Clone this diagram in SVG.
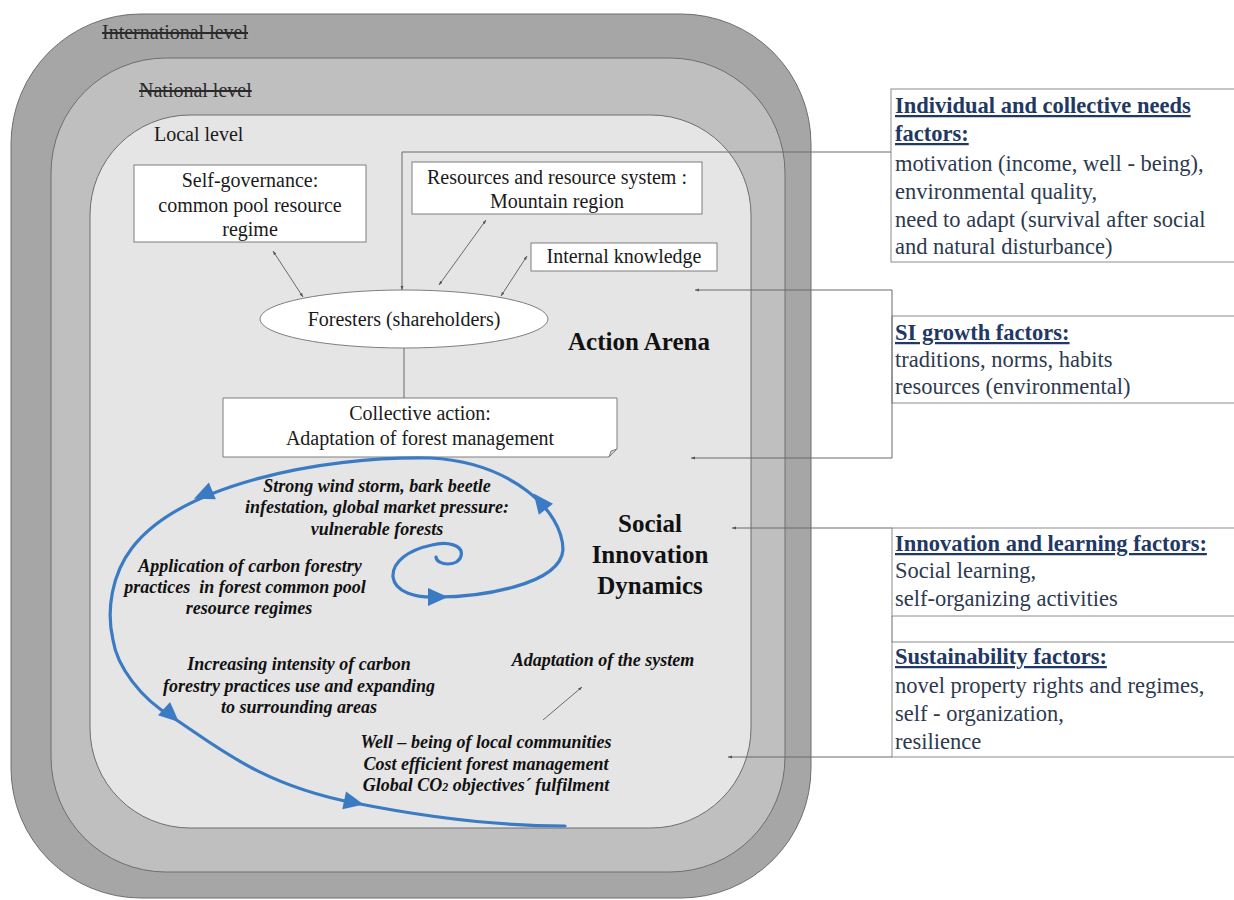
<svg xmlns="http://www.w3.org/2000/svg" width="1234" height="900" viewBox="0 0 1234 900">
<defs>
<style>
.lvl{stroke:#6e6e6e;stroke-width:1}
.t{font-family:"Liberation Serif","Times New Roman",serif;font-size:20px;fill:#1a1a1a}
.strike{text-decoration:line-through;fill:#2a2a2a}
.c{text-anchor:middle}
.bi{font-family:"Liberation Serif","Times New Roman",serif;font-size:18px;font-weight:bold;font-style:italic;fill:#111;text-anchor:middle}
.big{font-family:"Liberation Serif","Times New Roman",serif;font-size:25px;font-weight:bold;fill:#111}
.box{fill:#fff;stroke:#7f7f7f;stroke-width:1}
.conn{fill:none;stroke:#6a6a6a;stroke-width:1}
.panel{fill:#fff;stroke:#8c8c8c;stroke-width:1}
.ph{font-family:"Liberation Serif","Times New Roman",serif;font-size:22.5px;font-weight:bold;fill:#1f3864;text-decoration:underline}
.pb{font-family:"Liberation Serif","Times New Roman",serif;font-size:22.5px;fill:#2d3a4f}
.spiral{fill:none;stroke:#3b7bc4;stroke-width:3.2;stroke-linecap:round}
</style>
<marker id="tip" viewBox="0 0 8 8" refX="8" refY="4" markerWidth="4" markerHeight="4" orient="auto-start-reverse"><path d="M0,1 L8,4 L0,7 z" fill="#555"/></marker>
<path id="ah" d="M12,0 L-8,-9 L-8,9 Z" fill="#3b7bc4"/>
</defs>
<rect width="1234" height="900" fill="#fff"/>

<g id="international-level">
<rect class="lvl" x="11" y="14" width="800" height="884" rx="130" ry="130" fill="#a6a6a6"/>
<text class="t strike" x="102" y="39">International level</text>
</g>
<g id="national-level">
<rect class="lvl" x="51" y="58" width="734" height="814" rx="115" ry="115" fill="#bfbfbf"/>
<text class="t strike" x="139" y="97">National level</text>
</g>
<g id="local-level">
<rect class="lvl" x="90" y="115" width="661" height="713" rx="100" ry="100" fill="#e5e5e5"/>
<text class="t" x="154" y="141">Local level</text>
</g>

<g id="self-governance">
<rect class="box" x="134" y="165" width="232" height="77"/>
<text class="t c" x="250" y="187">Self-governance:</text>
<text class="t c" x="250" y="212">common pool resource</text>
<text class="t c" x="250" y="236">regime</text>
</g>
<g id="resources">
<rect class="box" x="412" y="162" width="290" height="52"/>
<text class="t c" x="557" y="184">Resources and resource system :</text>
<text class="t c" x="557" y="208">Mountain region</text>
</g>
<g id="internal-knowledge">
<rect class="box" x="531" y="243" width="186" height="28"/>
<text class="t c" x="624" y="263">Internal knowledge</text>
</g>
<g id="foresters">
<ellipse class="box" cx="404" cy="319" rx="144" ry="29"/>
<text class="t c" x="404" y="326">Foresters (shareholders)</text>
</g>
<g id="collective-action">
<path class="box" d="M223,398 H617 V449 L609,457 H223 Z"/>
<path d="M609,457 L611,451 L617,449 Z" fill="#d0d0d0" stroke="#7f7f7f" stroke-width="1"/>
<text class="t c" x="420" y="420">Collective action:</text>
<text class="t c" x="420" y="445">Adaptation of forest management</text>
</g>
<g id="action-arena">
<text class="big" x="568" y="350">Action Arena</text>
</g>
<g id="si-dynamics">
<text class="big c" x="650" y="532">Social</text>
<text class="big c" x="650" y="563">Innovation</text>
<text class="big c" x="650" y="594">Dynamics</text>
</g>

<g id="spiral">
<path class="spiral" d="M436,557 C437,566 458,567 461,556 C464,545 447,541 432,545 C408,550 392,562 393,577 C395,592 415,598 437,597 C480,597 560,585 563,550 C563,510 510,462 430,458 C320,456 180,485 132,548 C112,574 106,610 113,640 C117,666 140,698 172,717 C215,745 260,785 355,803 C420,816 490,826 565,826"/>
<use href="#ah" transform="translate(436,597) rotate(0)"/>
<use href="#ah" transform="translate(541,503) rotate(-128)"/>
<use href="#ah" transform="translate(205,494) rotate(157)"/>
<use href="#ah" transform="translate(170,714) rotate(42)"/>
<use href="#ah" transform="translate(352,802) rotate(12)"/>
</g>

<g id="dynamics-labels">
<text class="bi" x="377" y="492">Strong wind storm, bark beetle</text>
<text class="bi" x="377" y="513">infestation, global market pressure:</text>
<text class="bi" x="377" y="535">vulnerable forests</text>
<text class="bi" x="250" y="572">Application of carbon forestry</text>
<text class="bi" x="245" y="593" xml:space="preserve">practices  in forest common pool</text>
<text class="bi" x="249" y="614">resource regimes</text>
<text class="bi" x="299" y="670">Increasing intensity of carbon</text>
<text class="bi" x="299" y="692">forestry practices use and expanding</text>
<text class="bi" x="299" y="713">to surrounding areas</text>
<text class="bi" x="603" y="666">Adaptation of the system</text>
<text class="bi" x="486" y="748">Well – being of local communities</text>
<text class="bi" x="486" y="770">Cost efficient forest management</text>
<text class="bi" x="486" y="791">Global CO<tspan font-size="12">2</tspan> objectives´ fulfilment</text>
</g>

<g id="panel-needs">
<rect class="panel" x="891" y="89" width="360" height="173"/>
<text class="ph" x="895" y="113">Individual and collective needs</text>
<text class="ph" x="895" y="141">factors:</text>
<text class="pb" x="895" y="171">motivation (income, well - being),</text>
<text class="pb" x="895" y="199">environmental quality,</text>
<text class="pb" x="895" y="227">need to adapt (survival after social</text>
<text class="pb" x="895" y="254">and natural disturbance)</text>
</g>
<g id="panel-growth">
<rect class="panel" x="892" y="316" width="360" height="87"/>
<text class="ph" x="895" y="340">SI growth factors:</text>
<text class="pb" x="895" y="367">traditions, norms, habits</text>
<text class="pb" x="895" y="394">resources (environmental)</text>
</g>
<g id="panel-innovation">
<rect class="panel" x="892" y="528" width="360" height="88"/>
<text class="ph" x="895" y="551">Innovation and learning factors:</text>
<text class="pb" x="895" y="578">Social learning,</text>
<text class="pb" x="895" y="606">self-organizing activities</text>
</g>
<g id="panel-sustainability">
<rect class="panel" x="892" y="642" width="360" height="115"/>
<text class="ph" x="895" y="664">Sustainability factors:</text>
<text class="pb" x="895" y="693">novel property rights and regimes,</text>
<text class="pb" x="895" y="721">self - organization,</text>
<text class="pb" x="895" y="749">resilience</text>
</g>

<g id="connectors">
<path class="conn" d="M891,152 H402 V290" marker-end="url(#tip)"/>
<path class="conn" d="M695,290 H892 V458 H691" marker-start="url(#tip)" marker-end="url(#tip)"/>
<path class="conn" d="M892,528 H732" marker-end="url(#tip)"/>
<path class="conn" d="M892,757 H728" marker-end="url(#tip)"/>
<path class="conn" d="M892,616 V642"/>
<path class="conn" d="M273,251 L303,297" marker-start="url(#tip)" marker-end="url(#tip)"/>
<path class="conn" d="M486,220 L439,285" marker-start="url(#tip)" marker-end="url(#tip)"/>
<path class="conn" d="M527,256 L501,296" marker-start="url(#tip)" marker-end="url(#tip)"/>
<path class="conn" d="M404,348 V398"/>
<path class="conn" d="M543,720 L582,687" marker-end="url(#tip)"/>
</g>
</svg>
